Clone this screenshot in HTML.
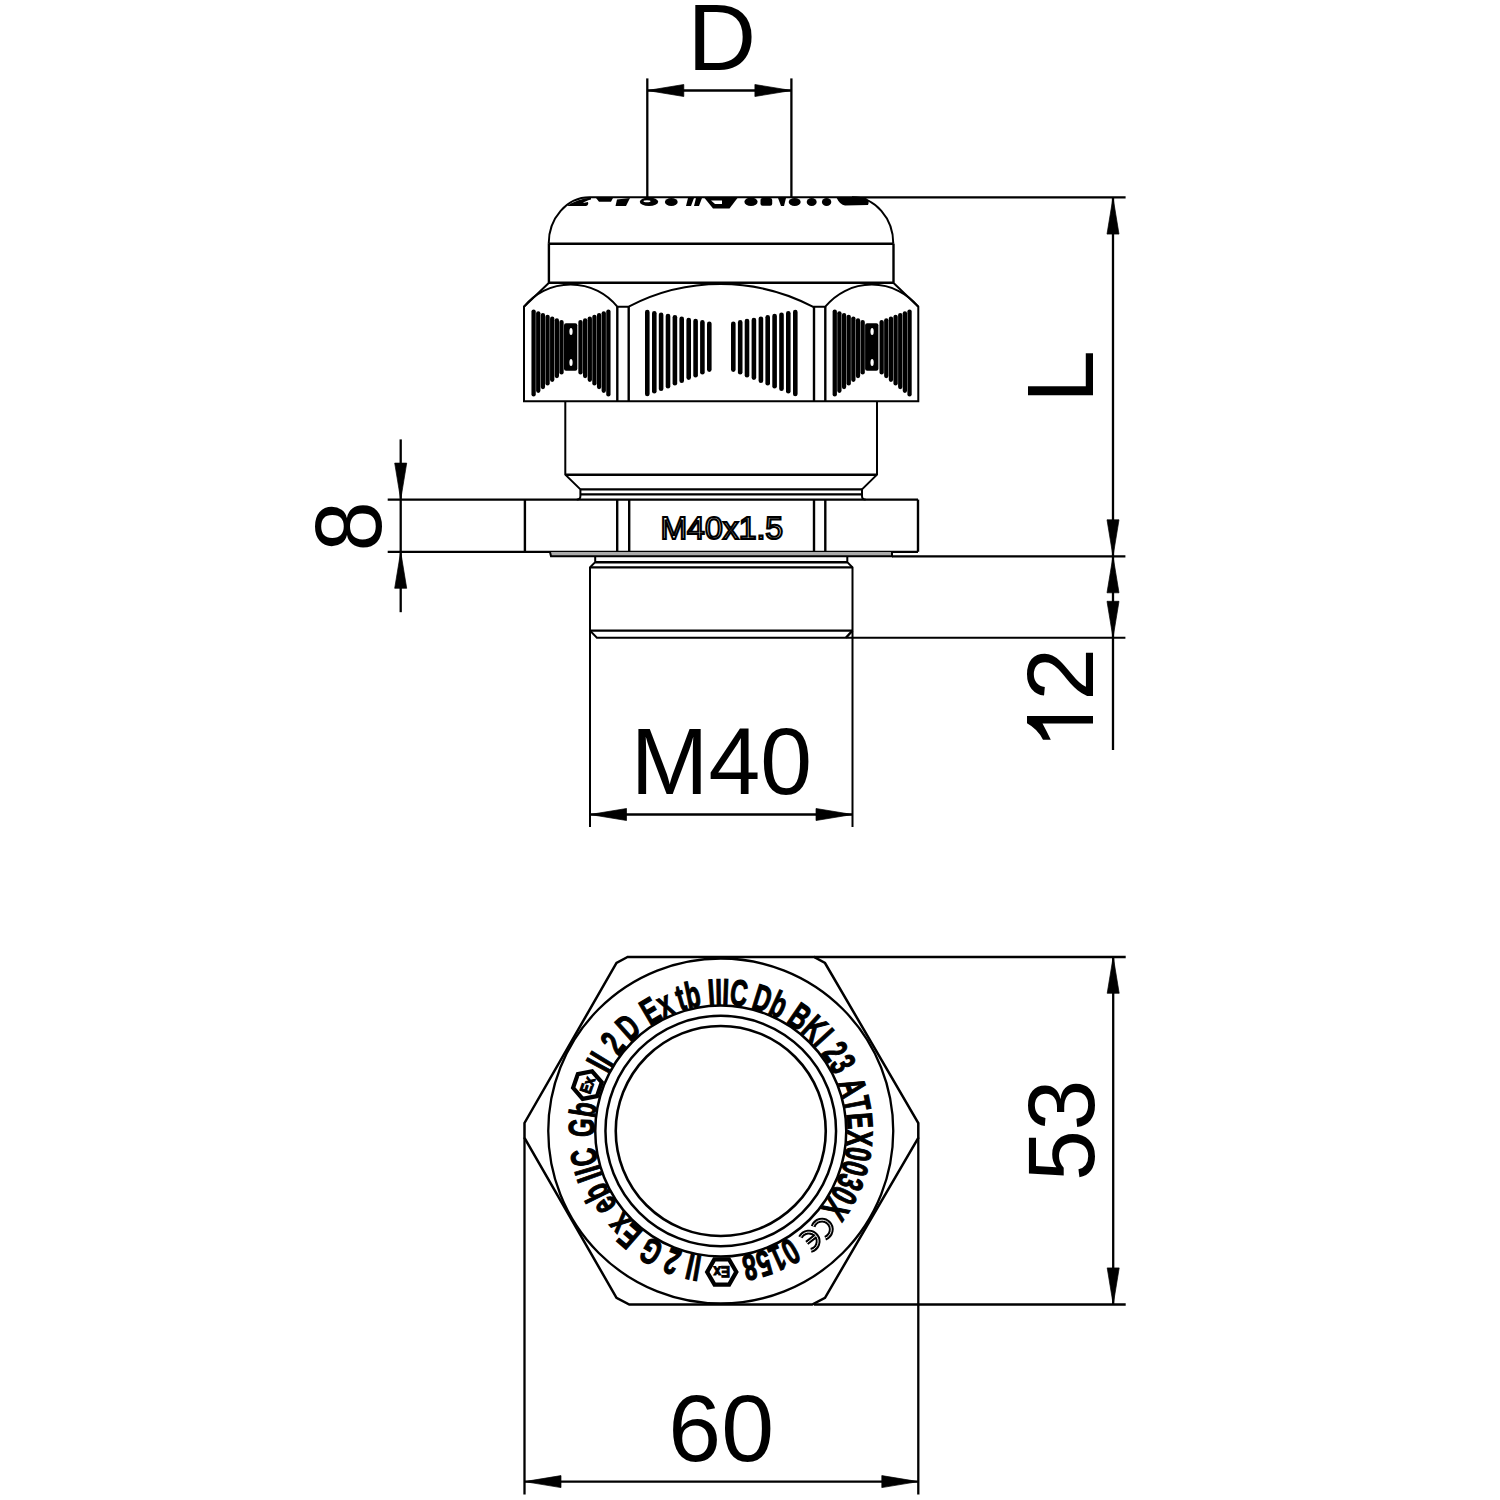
<!DOCTYPE html>
<html><head><meta charset="utf-8"><style>
html,body{margin:0;padding:0;background:#fff;}
svg{display:block;}
</style></head><body>
<svg width="1500" height="1500" viewBox="0 0 1500 1500">
<rect width="1500" height="1500" fill="#fff"/>
<g fill="none" stroke="#000" stroke-width="2" font-family="'Liberation Sans', sans-serif">
<g>
<line x1="647.3" y1="78.4" x2="647.3" y2="197.3" stroke-width="2.3"/>
<line x1="791.4" y1="78.4" x2="791.4" y2="197.3" stroke-width="2.3"/>
<line x1="647.3" y1="90.5" x2="791.4" y2="90.5" stroke-width="2.3"/>
<polygon points="647.3,90.5 683.80,84.50 683.80,96.50" fill="#000" stroke="#000" stroke-width="0.7"/>
<polygon points="791.4,90.5 754.90,96.50 754.90,84.50" fill="#000" stroke="#000" stroke-width="0.7"/>
<path d="M548.7,243.7 A40.8,46.4 0 0 1 589.5,197.3 L852.5,197.3 A40.8,46.4 0 0 1 893.3,243.7" />
<line x1="852" y1="197.3" x2="1125.6" y2="197.3" stroke-width="2.3"/>
<line x1="548.7" y1="243.7" x2="893.3" y2="243.7" stroke-width="2.4"/>
<line x1="548.9" y1="243.7" x2="548.9" y2="282.7" stroke-width="2.4"/>
<line x1="893.5" y1="243.7" x2="893.5" y2="282.7" stroke-width="2.4"/>
<line x1="548" y1="282.7" x2="894" y2="282.7" stroke-width="2.4"/>
<path d="M567,206 Q578,198.5 591,197.5 L591,199.5 Q585,201 583,203 L588,202 Q589,205 586,206 L578,206 Z" fill="#000" stroke="none"/>
<path d="M596,198 L613,198 L611,201.8 L599,201.8 Z" fill="#000" stroke="none"/>
<path d="M617,199.5 L630,198 L626,206 L615.5,206 Z" fill="#000" stroke="none"/>
<ellipse cx="649" cy="201.8" rx="9.2" ry="4.3" fill="#000" stroke="none"/>
<ellipse cx="647" cy="201.3" rx="3.5" ry="1" fill="#fff" stroke="none"/>
<ellipse cx="671.3" cy="202" rx="6.4" ry="4" fill="#000" stroke="none"/>
<path d="M688,198 L694,198 L691,206 L686,206 Z M696,198 L702,198 L699,206 L694,206 Z" fill="#000" stroke="none"/>
<path d="M704.5,198 L737.5,198 L729.5,208.5 L713,208.5 Z" fill="#000" stroke="none"/>
<path d="M711,200.5 L722,200.5 L722,204 L715,204 Z" fill="#fff" stroke="none"/>
<ellipse cx="751" cy="201.8" rx="6.6" ry="4.3" fill="#000" stroke="none"/>
<rect x="760.5" y="198" width="11.7" height="7.8" rx="2" fill="#000" stroke="none"/>
<path d="M778,198 L786,198 L784,206 L781,206 Z" fill="#000" stroke="none"/>
<ellipse cx="794.7" cy="202" rx="6" ry="4" fill="#000" stroke="none"/>
<ellipse cx="811.7" cy="202" rx="5" ry="4" fill="#000" stroke="none"/>
<ellipse cx="826.6" cy="202" rx="4.7" ry="4" fill="#000" stroke="none"/>
<path d="M836.7,198 L866,198 Q870,201 868,205 L845,205.5 Q840,205 836.7,198 Z" fill="#000" stroke="none"/>
<path d="M549,282.7 L524,306.7 L524,401.3 L918.3,401.3 L918.3,306.7 L893.3,282.7"/>
<path d="M524,306.7 A60,60 0 0 1 617.3,306.7 L628.7,306.7 A198.6,198.6 0 0 1 812.7,306.7 L825.3,306.7 A60,60 0 0 1 918.3,306.7"/>
<line x1="617.3" y1="306.7" x2="617.3" y2="401.3" stroke-width="2.4"/>
<line x1="628.7" y1="306.7" x2="628.7" y2="401.3" stroke-width="2.4"/>
<line x1="814" y1="306.7" x2="814" y2="401.3" stroke-width="2.4"/>
<line x1="825.3" y1="306.7" x2="825.3" y2="401.3" stroke-width="2.4"/>
<line x1="533.60" y1="311.60" x2="533.60" y2="394.40" stroke-width="4.3" stroke-linecap="round"/>
<line x1="608.40" y1="311.60" x2="608.40" y2="394.40" stroke-width="4.3" stroke-linecap="round"/>
<line x1="538.25" y1="313.35" x2="538.25" y2="390.73" stroke-width="4.3" stroke-linecap="round"/>
<line x1="603.75" y1="313.35" x2="603.75" y2="390.73" stroke-width="4.3" stroke-linecap="round"/>
<line x1="542.90" y1="315.10" x2="542.90" y2="387.07" stroke-width="4.3" stroke-linecap="round"/>
<line x1="599.10" y1="315.10" x2="599.10" y2="387.07" stroke-width="4.3" stroke-linecap="round"/>
<line x1="547.55" y1="316.85" x2="547.55" y2="383.40" stroke-width="4.3" stroke-linecap="round"/>
<line x1="594.45" y1="316.85" x2="594.45" y2="383.40" stroke-width="4.3" stroke-linecap="round"/>
<line x1="552.20" y1="318.60" x2="552.20" y2="379.73" stroke-width="4.3" stroke-linecap="round"/>
<line x1="589.80" y1="318.60" x2="589.80" y2="379.73" stroke-width="4.3" stroke-linecap="round"/>
<line x1="556.85" y1="320.35" x2="556.85" y2="376.07" stroke-width="4.3" stroke-linecap="round"/>
<line x1="585.15" y1="320.35" x2="585.15" y2="376.07" stroke-width="4.3" stroke-linecap="round"/>
<line x1="561.50" y1="322.10" x2="561.50" y2="372.40" stroke-width="4.3" stroke-linecap="round"/>
<line x1="580.50" y1="322.10" x2="580.50" y2="372.40" stroke-width="4.3" stroke-linecap="round"/>
<rect x="564.0" y="323.3" width="13.3" height="47.4" rx="2" fill="#000" stroke="none"/>
<ellipse cx="571.0" cy="331.5" rx="1.6" ry="3.6" fill="#fff" stroke="none"/>
<ellipse cx="571.0" cy="362.5" rx="1.6" ry="3.6" fill="#fff" stroke="none"/>
<line x1="834.75" y1="311.60" x2="834.75" y2="394.40" stroke-width="4.3" stroke-linecap="round"/>
<line x1="909.55" y1="311.60" x2="909.55" y2="394.40" stroke-width="4.3" stroke-linecap="round"/>
<line x1="839.40" y1="313.35" x2="839.40" y2="390.73" stroke-width="4.3" stroke-linecap="round"/>
<line x1="904.90" y1="313.35" x2="904.90" y2="390.73" stroke-width="4.3" stroke-linecap="round"/>
<line x1="844.05" y1="315.10" x2="844.05" y2="387.07" stroke-width="4.3" stroke-linecap="round"/>
<line x1="900.25" y1="315.10" x2="900.25" y2="387.07" stroke-width="4.3" stroke-linecap="round"/>
<line x1="848.70" y1="316.85" x2="848.70" y2="383.40" stroke-width="4.3" stroke-linecap="round"/>
<line x1="895.60" y1="316.85" x2="895.60" y2="383.40" stroke-width="4.3" stroke-linecap="round"/>
<line x1="853.35" y1="318.60" x2="853.35" y2="379.73" stroke-width="4.3" stroke-linecap="round"/>
<line x1="890.95" y1="318.60" x2="890.95" y2="379.73" stroke-width="4.3" stroke-linecap="round"/>
<line x1="858.00" y1="320.35" x2="858.00" y2="376.07" stroke-width="4.3" stroke-linecap="round"/>
<line x1="886.30" y1="320.35" x2="886.30" y2="376.07" stroke-width="4.3" stroke-linecap="round"/>
<line x1="862.65" y1="322.10" x2="862.65" y2="372.40" stroke-width="4.3" stroke-linecap="round"/>
<line x1="881.65" y1="322.10" x2="881.65" y2="372.40" stroke-width="4.3" stroke-linecap="round"/>
<rect x="865.1" y="323.3" width="13.3" height="47.4" rx="2" fill="#000" stroke="none"/>
<ellipse cx="872.1" cy="331.5" rx="1.6" ry="3.6" fill="#fff" stroke="none"/>
<ellipse cx="872.1" cy="362.5" rx="1.6" ry="3.6" fill="#fff" stroke="none"/>
<line x1="647.3" y1="312.0" x2="647.3" y2="394.0" stroke-width="4.6" stroke-linecap="round"/>
<line x1="795.3" y1="312.0" x2="795.3" y2="394.0" stroke-width="4.6" stroke-linecap="round"/>
<line x1="654.3" y1="313.3" x2="654.3" y2="391.3" stroke-width="4.6" stroke-linecap="round"/>
<line x1="788.3" y1="313.3" x2="788.3" y2="391.3" stroke-width="4.6" stroke-linecap="round"/>
<line x1="661.1" y1="314.7" x2="661.1" y2="388.7" stroke-width="4.6" stroke-linecap="round"/>
<line x1="781.5" y1="314.7" x2="781.5" y2="388.7" stroke-width="4.6" stroke-linecap="round"/>
<line x1="668" y1="316.0" x2="668" y2="386.3" stroke-width="4.6" stroke-linecap="round"/>
<line x1="774.6" y1="316.0" x2="774.6" y2="386.3" stroke-width="4.6" stroke-linecap="round"/>
<line x1="674.9" y1="317.3" x2="674.9" y2="383.3" stroke-width="4.6" stroke-linecap="round"/>
<line x1="767.7" y1="317.3" x2="767.7" y2="383.3" stroke-width="4.6" stroke-linecap="round"/>
<line x1="681.7" y1="318.7" x2="681.7" y2="380.7" stroke-width="4.6" stroke-linecap="round"/>
<line x1="760.9" y1="318.7" x2="760.9" y2="380.7" stroke-width="4.6" stroke-linecap="round"/>
<line x1="688.7" y1="320.0" x2="688.7" y2="377.6" stroke-width="4.6" stroke-linecap="round"/>
<line x1="753.9" y1="320.0" x2="753.9" y2="377.6" stroke-width="4.6" stroke-linecap="round"/>
<line x1="695.6" y1="321.0" x2="695.6" y2="375.3" stroke-width="4.6" stroke-linecap="round"/>
<line x1="747.0" y1="321.0" x2="747.0" y2="375.3" stroke-width="4.6" stroke-linecap="round"/>
<line x1="702.4" y1="322.4" x2="702.4" y2="372.3" stroke-width="4.6" stroke-linecap="round"/>
<line x1="740.2" y1="322.4" x2="740.2" y2="372.3" stroke-width="4.6" stroke-linecap="round"/>
<line x1="709.3" y1="323.7" x2="709.3" y2="369.6" stroke-width="4.6" stroke-linecap="round"/>
<line x1="733.3" y1="323.7" x2="733.3" y2="369.6" stroke-width="4.6" stroke-linecap="round"/>
<path d="M565.3,401.3 L565.3,474.7 L580.4,489.4 L580.4,496 Q580.4,499.6 576.8,499.6"/>
<path d="M877,401.3 L877,474.7 L862,489.4 L862,496 Q862,499.6 865.6,499.6"/>
<line x1="565.3" y1="474.7" x2="877" y2="474.7" stroke-width="2.4"/>
<line x1="580.4" y1="489.4" x2="862" y2="489.4" stroke-width="2.4"/>
<line x1="580.4" y1="494.4" x2="862" y2="494.4" stroke-width="2.4"/>
<line x1="387.7" y1="499.6" x2="918" y2="499.6" stroke-width="2.3"/>
<line x1="387.7" y1="551.8" x2="918" y2="551.8" stroke-width="2.3"/>
<line x1="524.9" y1="499.6" x2="524.9" y2="551.8" stroke-width="2.4"/>
<line x1="918" y1="499.6" x2="918" y2="551.8" stroke-width="2.4"/>
<line x1="617.2" y1="499.6" x2="617.2" y2="551.8" stroke-width="2.4"/>
<line x1="629.2" y1="499.6" x2="629.2" y2="551.8" stroke-width="2.4"/>
<line x1="814" y1="499.6" x2="814" y2="551.8" stroke-width="2.4"/>
<line x1="825.3" y1="499.6" x2="825.3" y2="551.8" stroke-width="2.4"/>
<text x="721.8" y="538.5" text-anchor="middle" font-size="32" fill="#fff" stroke="#000" stroke-width="2.1">M40x1.5</text>
<path d="M550,552 L551,556.2 L892,556.2 L892,552" fill="#aaa" />
<line x1="892" y1="556.3" x2="1125.4" y2="556.3" stroke-width="2.3"/>
<path d="M595.2,556.7 L595.2,562.2 L590,567.4 L590,827"/>
<path d="M847.3,556.7 L847.3,562.2 L852.5,567.4 L852.5,827"/>
<line x1="595.2" y1="562.2" x2="847.3" y2="562.2" stroke-width="2.4"/>
<line x1="590" y1="567.4" x2="852.5" y2="567.4" stroke-width="2.4"/>
<line x1="590" y1="630.6" x2="852.5" y2="630.6" stroke-width="2.4"/>
<path d="M590,630.6 L596.9,637.8 L1125.4,637.8"/>
<line x1="852.5" y1="630.6" x2="845.9" y2="637.8" stroke-width="2.4"/>
<line x1="590" y1="814.5" x2="852.5" y2="814.5" stroke-width="2.3"/>
<polygon points="590,814.5 626.50,808.50 626.50,820.50" fill="#000" stroke="#000" stroke-width="0.7"/>
<polygon points="852.5,814.5 816.00,820.50 816.00,808.50" fill="#000" stroke="#000" stroke-width="0.7"/>
<line x1="1113" y1="197.6" x2="1113" y2="750" stroke-width="2.3"/>
<polygon points="1113,197.6 1119.00,234.10 1107.00,234.10" fill="#000" stroke="#000" stroke-width="0.7"/>
<polygon points="1113,556.3 1107.00,519.80 1119.00,519.80" fill="#000" stroke="#000" stroke-width="0.7"/>
<polygon points="1113,556.3 1119.00,592.80 1107.00,592.80" fill="#000" stroke="#000" stroke-width="0.7"/>
<polygon points="1113,637.8 1107.00,601.30 1119.00,601.30" fill="#000" stroke="#000" stroke-width="0.7"/>
<line x1="400.7" y1="439.4" x2="400.7" y2="612.2" stroke-width="2.3"/>
<polygon points="400.7,499.6 394.70,463.10 406.70,463.10" fill="#000" stroke="#000" stroke-width="0.7"/>
<polygon points="400.7,551.8 406.70,588.30 394.70,588.30" fill="#000" stroke="#000" stroke-width="0.7"/>
<text fill="#000" stroke="none" x="721.9" y="69.8" text-anchor="middle" font-size="95">D</text>
<text fill="#000" stroke="none" transform="translate(721.4,793.9) scale(0.98,1)" text-anchor="middle" font-size="95">M40</text>
<text fill="#000" stroke="none" x="721.2" y="1461" text-anchor="middle" font-size="95">60</text>
<text fill="#000" stroke="none" transform="translate(1093,376.7) rotate(-90)" text-anchor="middle" font-size="95">L</text>
<text fill="#000" stroke="none" transform="translate(1093,674.4) rotate(-90)" text-anchor="middle" font-size="95">2</text>
<path d="M1027,715.9 L1093,715.9 L1093,723.6 L1042.5,723.6 Q1046.5,731 1050.8,739.7 L1043,739.7 Q1037.5,729 1027,723.3 Z" fill="#000" stroke="none"/>
<text fill="#000" stroke="none" transform="translate(380.9,526.5) rotate(-90) scale(0.95,1)" text-anchor="middle" font-size="95">8</text>
<text fill="#000" stroke="none" transform="translate(1093.7,1130.4) rotate(-90) scale(0.96,1)" text-anchor="middle" font-size="95">53</text>
<path d="M627.5,957 L616.5,963 L524.5,1123 L524.5,1137.8 L616.5,1297.8 L629.3,1304.5 L812.2,1304.5 L825,1297.8 L918.3,1137.8 L918.3,1123 L825,963 L814,957 Z" stroke-width="2.5"/>
<line x1="814" y1="957" x2="1125.7" y2="957" stroke-width="2.3"/>
<line x1="814" y1="1304.5" x2="1125.7" y2="1304.5" stroke-width="2.3"/>
<line x1="524.5" y1="1137.8" x2="524.5" y2="1494.5" stroke-width="2.3"/>
<line x1="918.3" y1="1137.8" x2="918.3" y2="1494.5" stroke-width="2.3"/>
<circle cx="720.75" cy="1131" r="172.5" stroke-width="2.3"/>
<circle cx="720.75" cy="1131" r="125.5" stroke-width="2.5"/>
<circle cx="720.75" cy="1131" r="115.3" stroke-width="2.5"/>
<circle cx="720.75" cy="1131" r="105" stroke-width="2.6"/>
<line x1="1113.2" y1="956.8" x2="1113.2" y2="1304.4" stroke-width="2.3"/>
<polygon points="1113.2,956.8 1119.20,993.30 1107.20,993.30" fill="#000" stroke="#000" stroke-width="0.7"/>
<polygon points="1113.2,1304.4 1107.20,1267.90 1119.20,1267.90" fill="#000" stroke="#000" stroke-width="0.7"/>
<line x1="524.5" y1="1481.6" x2="918.3" y2="1481.6" stroke-width="2.3"/>
<polygon points="524.5,1481.6 561.00,1475.60 561.00,1487.60" fill="#000" stroke="#000" stroke-width="0.7"/>
<polygon points="918.3,1481.6 881.80,1487.60 881.80,1475.60" fill="#000" stroke="#000" stroke-width="0.7"/>
<g transform="rotate(289,720.75,1131) translate(720.75,990)">
<polygon points="14.60,0.00 7.30,12.64 -7.30,12.64 -14.60,0.00 -7.30,-12.64 7.30,-12.64" fill="none" stroke="#000" stroke-width="4.2"/>
<text transform="scale(0.85,1)" x="0" y="5.6" text-anchor="middle" font-size="16" font-weight="bold" fill="#000" stroke="#000" stroke-width="1.1">Ex</text>
</g>
<text transform="rotate(298.20,720.75,1131) translate(720.75,1004.4) scale(0.655,1)" text-anchor="middle" font-size="36.5" font-weight="bold" fill="#000" stroke="#000" stroke-width="1.2">I</text>
<text transform="rotate(301.20,720.75,1131) translate(720.75,1004.4) scale(0.655,1)" text-anchor="middle" font-size="36.5" font-weight="bold" fill="#000" stroke="#000" stroke-width="1.2">I</text>
<text transform="rotate(309.10,720.75,1131) translate(720.75,1004.4) scale(0.655,1)" text-anchor="middle" font-size="36.5" font-weight="bold" fill="#000" stroke="#000" stroke-width="1.2">2</text>
<text transform="rotate(318.30,720.75,1131) translate(720.75,1004.4) scale(0.655,1)" text-anchor="middle" font-size="36.5" font-weight="bold" fill="#000" stroke="#000" stroke-width="1.2">D</text>
<text transform="rotate(329.59,720.75,1131) translate(720.75,1004.4) scale(0.655,1)" text-anchor="middle" font-size="36.5" font-weight="bold" fill="#000" stroke="#000" stroke-width="1.2">E</text>
<text transform="rotate(336.21,720.75,1131) translate(720.75,1004.4) scale(0.655,1)" text-anchor="middle" font-size="36.5" font-weight="bold" fill="#000" stroke="#000" stroke-width="1.2">x</text>
<text transform="rotate(343.20,720.75,1131) translate(720.75,1004.4) scale(0.655,1)" text-anchor="middle" font-size="36.5" font-weight="bold" fill="#000" stroke="#000" stroke-width="1.2">t</text>
<text transform="rotate(348.30,720.75,1131) translate(720.75,1004.4) scale(0.655,1)" text-anchor="middle" font-size="36.5" font-weight="bold" fill="#000" stroke="#000" stroke-width="1.2">b</text>
<text transform="rotate(-3.91,720.75,1131) translate(720.75,1004.4) scale(0.655,1)" text-anchor="middle" font-size="36.5" font-weight="bold" fill="#000" stroke="#000" stroke-width="1.2">I</text>
<text transform="rotate(-0.91,720.75,1131) translate(720.75,1004.4) scale(0.655,1)" text-anchor="middle" font-size="36.5" font-weight="bold" fill="#000" stroke="#000" stroke-width="1.2">I</text>
<text transform="rotate(2.10,720.75,1131) translate(720.75,1004.4) scale(0.655,1)" text-anchor="middle" font-size="36.5" font-weight="bold" fill="#000" stroke="#000" stroke-width="1.2">I</text>
<text transform="rotate(7.51,720.75,1131) translate(720.75,1004.4) scale(0.655,1)" text-anchor="middle" font-size="36.5" font-weight="bold" fill="#000" stroke="#000" stroke-width="1.2">C</text>
<text transform="rotate(17.50,720.75,1131) translate(720.75,1004.4) scale(0.655,1)" text-anchor="middle" font-size="36.5" font-weight="bold" fill="#000" stroke="#000" stroke-width="1.2">D</text>
<text transform="rotate(24.71,720.75,1131) translate(720.75,1004.4) scale(0.655,1)" text-anchor="middle" font-size="36.5" font-weight="bold" fill="#000" stroke="#000" stroke-width="1.2">b</text>
<text transform="rotate(34.59,720.75,1131) translate(720.75,1004.4) scale(0.655,1)" text-anchor="middle" font-size="36.5" font-weight="bold" fill="#000" stroke="#000" stroke-width="1.2">B</text>
<text transform="rotate(42.40,720.75,1131) translate(720.75,1004.4) scale(0.655,1)" text-anchor="middle" font-size="36.5" font-weight="bold" fill="#000" stroke="#000" stroke-width="1.2">K</text>
<text transform="rotate(47.81,720.75,1131) translate(720.75,1004.4) scale(0.655,1)" text-anchor="middle" font-size="36.5" font-weight="bold" fill="#000" stroke="#000" stroke-width="1.2">I</text>
<text transform="rotate(55.19,720.75,1131) translate(720.75,1004.4) scale(0.655,1)" text-anchor="middle" font-size="36.5" font-weight="bold" fill="#000" stroke="#000" stroke-width="1.2">2</text>
<text transform="rotate(61.21,720.75,1131) translate(720.75,1004.4) scale(0.655,1)" text-anchor="middle" font-size="36.5" font-weight="bold" fill="#000" stroke="#000" stroke-width="1.2">3</text>
<text transform="rotate(71.64,720.75,1131) translate(720.75,1004.4) scale(0.655,1)" text-anchor="middle" font-size="36.5" font-weight="bold" fill="#000" stroke="#000" stroke-width="1.2">A</text>
<text transform="rotate(78.85,720.75,1131) translate(720.75,1004.4) scale(0.655,1)" text-anchor="middle" font-size="36.5" font-weight="bold" fill="#000" stroke="#000" stroke-width="1.2">T</text>
<text transform="rotate(85.76,720.75,1131) translate(720.75,1004.4) scale(0.655,1)" text-anchor="middle" font-size="36.5" font-weight="bold" fill="#000" stroke="#000" stroke-width="1.2">E</text>
<text transform="rotate(92.98,720.75,1131) translate(720.75,1004.4) scale(0.655,1)" text-anchor="middle" font-size="36.5" font-weight="bold" fill="#000" stroke="#000" stroke-width="1.2">X</text>
<text transform="rotate(99.59,720.75,1131) translate(720.75,1004.4) scale(0.655,1)" text-anchor="middle" font-size="36.5" font-weight="bold" fill="#000" stroke="#000" stroke-width="1.2">0</text>
<text transform="rotate(105.61,720.75,1131) translate(720.75,1004.4) scale(0.655,1)" text-anchor="middle" font-size="36.5" font-weight="bold" fill="#000" stroke="#000" stroke-width="1.2">0</text>
<text transform="rotate(111.63,720.75,1131) translate(720.75,1004.4) scale(0.655,1)" text-anchor="middle" font-size="36.5" font-weight="bold" fill="#000" stroke="#000" stroke-width="1.2">3</text>
<text transform="rotate(117.65,720.75,1131) translate(720.75,1004.4) scale(0.655,1)" text-anchor="middle" font-size="36.5" font-weight="bold" fill="#000" stroke="#000" stroke-width="1.2">0</text>
<text transform="rotate(124.26,720.75,1131) translate(720.75,1004.4) scale(0.655,1)" text-anchor="middle" font-size="36.5" font-weight="bold" fill="#000" stroke="#000" stroke-width="1.2">X</text>
<g transform="rotate(134.2,720.75,1131) translate(720.75,989.8)">
<path d="M4.0,-8.4 A9.3,9.3 0 1 0 4.0,8.4" fill="none" stroke="#000" stroke-width="4.8"/>
<path d="M4.0,-8.4 A9.3,9.3 0 1 0 4.0,8.4" fill="none" stroke="#fff" stroke-width="0.9"/>
</g>
<g transform="rotate(141.4,720.75,1131) translate(720.75,989.8)">
<path d="M4.0,-8.4 A9.3,9.3 0 1 0 4.0,8.4 M-9.3,0 L2.6,0" fill="none" stroke="#000" stroke-width="4.8"/>
<path d="M4.0,-8.4 A9.3,9.3 0 1 0 4.0,8.4 M-9.3,0 L2.6,0" fill="none" stroke="#fff" stroke-width="0.9"/>
</g>
<text transform="rotate(149.87,720.75,1131) translate(720.75,1004.4) scale(0.655,1)" text-anchor="middle" font-size="36.5" font-weight="bold" fill="#000" stroke="#000" stroke-width="1.2">0</text>
<text transform="rotate(155.89,720.75,1131) translate(720.75,1004.4) scale(0.655,1)" text-anchor="middle" font-size="36.5" font-weight="bold" fill="#000" stroke="#000" stroke-width="1.2">1</text>
<text transform="rotate(161.91,720.75,1131) translate(720.75,1004.4) scale(0.655,1)" text-anchor="middle" font-size="36.5" font-weight="bold" fill="#000" stroke="#000" stroke-width="1.2">5</text>
<text transform="rotate(167.93,720.75,1131) translate(720.75,1004.4) scale(0.655,1)" text-anchor="middle" font-size="36.5" font-weight="bold" fill="#000" stroke="#000" stroke-width="1.2">8</text>
<g transform="rotate(179.6,720.75,1131) translate(720.75,990)">
<polygon points="14.60,0.00 7.30,12.64 -7.30,12.64 -14.60,0.00 -7.30,-12.64 7.30,-12.64" fill="none" stroke="#000" stroke-width="4.2"/>
<text transform="scale(0.85,1)" x="0" y="5.6" text-anchor="middle" font-size="16" font-weight="bold" fill="#000" stroke="#000" stroke-width="1.1">Ex</text>
</g>
<text transform="rotate(189.80,720.75,1131) translate(720.75,1004.4) scale(0.655,1)" text-anchor="middle" font-size="36.5" font-weight="bold" fill="#000" stroke="#000" stroke-width="1.2">I</text>
<text transform="rotate(192.80,720.75,1131) translate(720.75,1004.4) scale(0.655,1)" text-anchor="middle" font-size="36.5" font-weight="bold" fill="#000" stroke="#000" stroke-width="1.2">I</text>
<text transform="rotate(200.50,720.75,1131) translate(720.75,1004.4) scale(0.655,1)" text-anchor="middle" font-size="36.5" font-weight="bold" fill="#000" stroke="#000" stroke-width="1.2">2</text>
<text transform="rotate(210.10,720.75,1131) translate(720.75,1004.4) scale(0.655,1)" text-anchor="middle" font-size="36.5" font-weight="bold" fill="#000" stroke="#000" stroke-width="1.2">G</text>
<text transform="rotate(220.99,720.75,1131) translate(720.75,1004.4) scale(0.655,1)" text-anchor="middle" font-size="36.5" font-weight="bold" fill="#000" stroke="#000" stroke-width="1.2">E</text>
<text transform="rotate(227.61,720.75,1131) translate(720.75,1004.4) scale(0.655,1)" text-anchor="middle" font-size="36.5" font-weight="bold" fill="#000" stroke="#000" stroke-width="1.2">x</text>
<text transform="rotate(237.30,720.75,1131) translate(720.75,1004.4) scale(0.655,1)" text-anchor="middle" font-size="36.5" font-weight="bold" fill="#000" stroke="#000" stroke-width="1.2">e</text>
<text transform="rotate(243.61,720.75,1131) translate(720.75,1004.4) scale(0.655,1)" text-anchor="middle" font-size="36.5" font-weight="bold" fill="#000" stroke="#000" stroke-width="1.2">b</text>
<text transform="rotate(250.59,720.75,1131) translate(720.75,1004.4) scale(0.655,1)" text-anchor="middle" font-size="36.5" font-weight="bold" fill="#000" stroke="#000" stroke-width="1.2">I</text>
<text transform="rotate(253.60,720.75,1131) translate(720.75,1004.4) scale(0.655,1)" text-anchor="middle" font-size="36.5" font-weight="bold" fill="#000" stroke="#000" stroke-width="1.2">I</text>
<text transform="rotate(259.01,720.75,1131) translate(720.75,1004.4) scale(0.655,1)" text-anchor="middle" font-size="36.5" font-weight="bold" fill="#000" stroke="#000" stroke-width="1.2">C</text>
<text transform="rotate(271.40,720.75,1131) translate(720.75,1004.4) scale(0.655,1)" text-anchor="middle" font-size="36.5" font-weight="bold" fill="#000" stroke="#000" stroke-width="1.2">G</text>
<text transform="rotate(278.91,720.75,1131) translate(720.75,1004.4) scale(0.655,1)" text-anchor="middle" font-size="36.5" font-weight="bold" fill="#000" stroke="#000" stroke-width="1.2">b</text>
</g>
</g>
</svg>
</body></html>
